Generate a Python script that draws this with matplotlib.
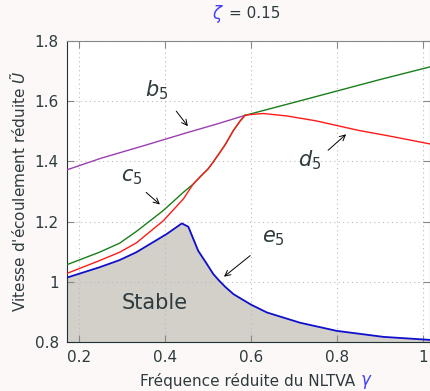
import matplotlib
matplotlib.use("Agg")
import matplotlib.pyplot as plt

# données (zeta = 0.15)
gamma_b5 = [0.172, 0.25, 0.35, 0.45, 0.52, 0.586]
U_b5 = [1.372, 1.410, 1.452, 1.495, 1.524, 1.553]

gamma_haut = [0.586, 0.70, 0.80, 0.90, 1.016]
U_haut = [1.553, 1.596, 1.634, 1.672, 1.714]

gamma_c5 = [0.172, 0.247, 0.294, 0.333, 0.396, 0.443, 0.465,
            0.481, 0.50, 0.512, 0.53, 0.54, 0.559, 0.575, 0.586]
U_c5 = [1.057, 1.098, 1.128, 1.167, 1.237, 1.298, 1.324,
        1.348, 1.375, 1.398, 1.435, 1.456, 1.503, 1.535, 1.553]

gamma_d5 = [0.172, 0.247, 0.294, 0.333, 0.396, 0.443, 0.465, 0.481, 0.50,
            0.512, 0.53, 0.54, 0.559, 0.575, 0.586, 0.60, 0.629, 0.683, 0.75,
            0.85, 0.93, 1.016]
U_d5 = [1.028, 1.070, 1.098, 1.129, 1.203, 1.276, 1.324, 1.348, 1.375,
        1.398, 1.435, 1.456, 1.503, 1.535, 1.553, 1.556, 1.559, 1.551, 1.535,
        1.503, 1.482, 1.458]

gamma_e5 = [0.172, 0.247, 0.294, 0.333, 0.404, 0.439, 0.454, 0.477, 0.495,
            0.512, 0.525, 0.54, 0.559, 0.60, 0.637, 0.714, 0.799, 0.908,
            1.016]
U_e5 = [1.014, 1.048, 1.072, 1.098, 1.159, 1.194, 1.183, 1.103, 1.064,
        1.026, 1.005, 0.983, 0.959, 0.924, 0.898, 0.864, 0.837, 0.817,
        0.807]

texte = '#2e3b3e'
bleu = '#4040ff'
plt.rcParams['font.family'] = ['DejaVu Sans']
plt.rcParams['mathtext.fontset'] = 'dejavusans'

fig = plt.figure(figsize=(4.30, 3.91), dpi=100, facecolor='#fcf8f7')
ax = fig.add_axes([67/430, 1 - 342/391, 363/430, 301/391])
ax.set_facecolor('white')

ax.fill_between(gamma_e5, 0.8, U_e5, color='#d3cfc9', zorder=1)
ax.plot(gamma_b5, U_b5, color='#9b3fb0', lw=1.0, zorder=3)
ax.plot(gamma_haut, U_haut, color='#1a7d1a', lw=1.0, zorder=3)
ax.plot(gamma_c5, U_c5, color='#1a7d1a', lw=1.0, zorder=3)
ax.plot(gamma_d5, U_d5, color='#ff1a1a', lw=1.0, zorder=4)
ax.plot(gamma_e5, U_e5, color='#1010cc', lw=1.3, zorder=5)

ax.set_xlim(0.172, 1.016)
ax.set_ylim(0.8, 1.8)
ax.set_xticks([0.2, 0.4, 0.6, 0.8, 1.0])
ax.set_xticklabels(['0.2', '0.4', '0.6', '0.8', '1'])
ax.set_yticks([0.8, 1.0, 1.2, 1.4, 1.6, 1.8])
ax.set_yticklabels(['0.8', '1', '1.2', '1.4', '1.6', '1.8'])
ax.grid(True, linestyle=(0, (1, 3)), color='#bbbbbb', lw=0.8, zorder=2)
ax.tick_params(direction='in', top=True, right=True, length=5, width=0.8,
               colors='#888888', labelcolor=texte, labelsize=11, pad=6)
for s in ['left', 'bottom']:
    ax.spines[s].set_color('#1f3335')
for s in ['top', 'right']:
    ax.spines[s].set_color('#888888')

# titre : zeta en bleu
fig.text(224/430, 1 - 14/391, r'$\zeta$', color=bleu, fontsize=12,
         ha='right', va='center')
fig.text(229/430, 1 - 14/391, '= 0.15', color=texte, fontsize=11,
         ha='left', va='center')

# axe des x : gamma en bleu
fig.text(355/430, 1 - 381/391, 'Fréquence réduite du NLTVA', color=texte,
         fontsize=11, ha='right', va='center')
fig.text(360/430, 1 - 382/391, r'$\gamma$', color=bleu, fontsize=12,
         ha='left', va='center')
ax.set_ylabel(r"Vitesse d'écoulement réduite $\tilde{U}$", color=texte,
              fontsize=11, labelpad=4)

# étiquettes et flèches
fl = dict(arrowstyle='->', color='black', lw=0.7, shrinkA=0, shrinkB=0)
etiquettes = [
    (r'$b_5$', (0.381, 1.635), (0.426, 1.567), (0.453, 1.517)),
    (r'$c_5$', (0.323, 1.347), (0.356, 1.297), (0.388, 1.257)),
    (r'$d_5$', (0.737, 1.403), (0.779, 1.437), (0.821, 1.490)),
    (r'$e_5$', (0.651, 1.147), (0.598, 1.087), (0.537, 1.017)),
]
for nom, pos_txt, debut, fin in etiquettes:
    ax.text(pos_txt[0], pos_txt[1], nom, fontsize=15, color=texte,
            ha='center', va='center', zorder=6)
    ax.annotate('', xy=fin, xytext=debut, arrowprops=fl, zorder=6)
ax.text(0.377, 0.93, 'Stable', fontsize=15, color=texte, ha='center',
        va='center', zorder=6)

fig.savefig('out.png', dpi=100, facecolor=fig.get_facecolor())
